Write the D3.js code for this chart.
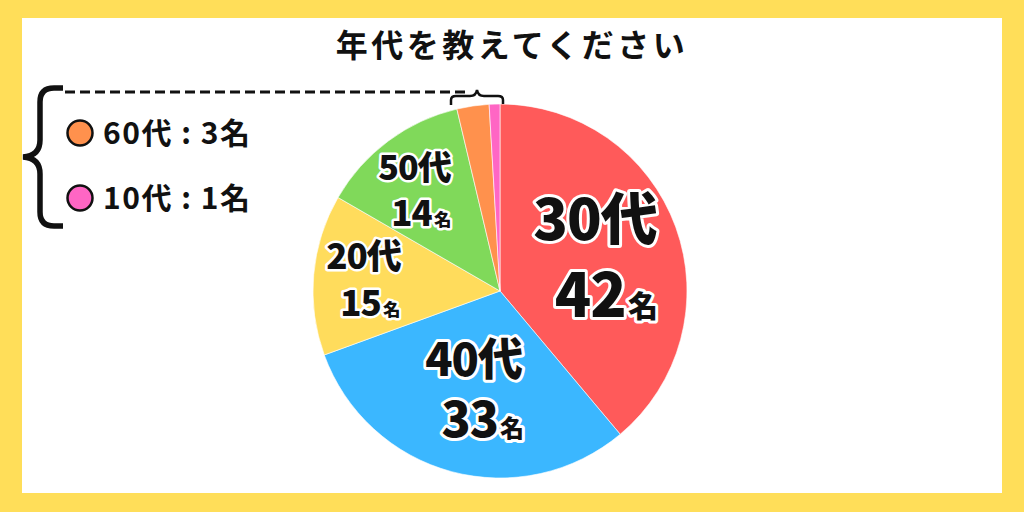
<!DOCTYPE html>
<html>
<head>
<meta charset="utf-8">
<script src="https://cdn.jsdelivr.net/npm/d3@7"></script>
<style>
  body { margin: 0; background: #fff; }
  svg { display: block; font-family: "Noto Sans CJK JP", "Noto Sans", sans-serif; }
</style>
</head>
<body>
<svg id="chart" width="1024" height="512"></svg>
<script>
// Data
const title = "年代を教えてください";
const ages = ["30代", "40代", "20代", "50代", "60代", "10代"];
const counts = [42, 33, 15, 14, 3, 1];
const unit = "名";

// Styles
const sliceColors = ["#ff5a5a", "#3bb7ff", "#ffdc5c", "#80d95a", "#ff914d", "#ff66c4"];
const labelRadius = [99, 102, 134, 128];
const labelNudge = [[2, 0], [0, 0], [-3, 0], [-9, 2]];
const labelSize = [57, 45, 35, 34];
const numberSize = [60, 48, 35, 35];
const smallLimit = 5;

const svg = d3.select("#chart");
const W = 1024, H = 512;

// yellow frame
svg.append("rect").attr("width", W).attr("height", H).attr("fill", "#ffde59");
svg.append("rect")
  .attr("x", 22).attr("y", 18)
  .attr("width", 980).attr("height", 475)
  .attr("fill", "#fff");

// title
svg.append("text")
  .attr("x", 512).attr("y", 57)
  .attr("text-anchor", "middle")
  .attr("font-size", 32)
  .attr("font-weight", 700)
  .attr("letter-spacing", 3.5)
  .attr("fill", "#111")
  .text(title);

// pie
const cx = 500, cy = 291, r = 187;
const data = ages.map((a, i) => ({ age: a, count: counts[i], i: i }));
const pie = d3.pie().sort(null).value((d) => d.count);
const arcs = pie(data);
const arc = d3.arc().innerRadius(0).outerRadius(r);

const g = svg.append("g").attr("transform", `translate(${cx},${cy})`);

g.selectAll("path")
  .data(arcs)
  .enter()
  .append("path")
  .attr("d", arc)
  .attr("fill", (d) => sliceColors[d.data.i])
  .attr("stroke", "#fff")
  .attr("stroke-width", 0.6);

// labels on the big slices (one text, two lines)
const big = arcs.filter((d) => d.data.count >= smallLimit);
big.forEach((d) => {
  const i = d.data.i;
  const mid = (d.startAngle + d.endAngle) / 2;
  const x = Math.sin(mid) * labelRadius[i] + labelNudge[i][0];
  const y = -Math.cos(mid) * labelRadius[i] + labelNudge[i][1];
  const fs = labelSize[i];
  const ns = numberSize[i];

  const t = g.append("text")
    .attr("font-weight", 900)
    .attr("fill", "#111")
    .attr("stroke", "#fff")
    .attr("stroke-width", fs > 40 ? 6 : 5)
    .attr("stroke-linejoin", "round")
    .attr("paint-order", "stroke")
    .attr("letter-spacing", -1)
    .attr("text-anchor", "middle")
    .attr("x", x).attr("y", y - 0.3 * fs);

  t.append("tspan")
    .attr("x", x).attr("y", y - 0.3 * fs)
    .attr("font-size", fs)
    .text(d.data.age);

  t.append("tspan")
    .attr("x", x + ns * 0.18).attr("y", y + 1.05 * fs)
    .attr("font-size", ns)
    .text(d.data.count);
  t.append("tspan")
    .attr("font-size", ns / 2)
    .attr("dx", 2)
    .text(unit);
});

// legend for the thin slices
const small = data.filter((d) => d.count < smallLimit);

// big brace
svg.append("path")
  .attr("d", "M63,88 H54 Q40,88 40,102 V140 Q40,156 23,157 Q40,158 40,174 V212 Q40,226 54,226 H63")
  .attr("fill", "none")
  .attr("stroke", "#111")
  .attr("stroke-width", 5.5);

// dashed guide line to the thin slices
svg.append("line")
  .attr("x1", 65).attr("x2", 468)
  .attr("y1", 92).attr("y2", 92)
  .attr("stroke", "#111")
  .attr("stroke-width", 3)
  .attr("stroke-dasharray", "10 5");

// small brace above the slices
svg.append("path")
  .attr("d", "M451,105 V100 Q451,96 456,96 H470 Q476,96 477,90 Q478,96 484,96 H498 Q503,96 503,100 V104")
  .attr("fill", "none")
  .attr("stroke", "#111")
  .attr("stroke-width", 2.5);

const legend = svg.append("g")
  .selectAll("g")
  .data(small)
  .enter()
  .append("g")
  .attr("transform", (d, k) => `translate(0,${133 + k * 65})`);

legend.append("circle")
  .attr("cx", 80).attr("cy", 0).attr("r", 12.5)
  .attr("fill", (d) => sliceColors[d.i])
  .attr("stroke", "#111")
  .attr("stroke-width", 2.5);

legend.append("text")
  .attr("x", 103).attr("y", 11)
  .attr("font-size", 30)
  .attr("font-weight", 700)
  .attr("letter-spacing", 1.5)
  .attr("fill", "#111")
  .text((d) => `${d.age} : ${d.count}${unit}`);
</script>
</body>
</html>
